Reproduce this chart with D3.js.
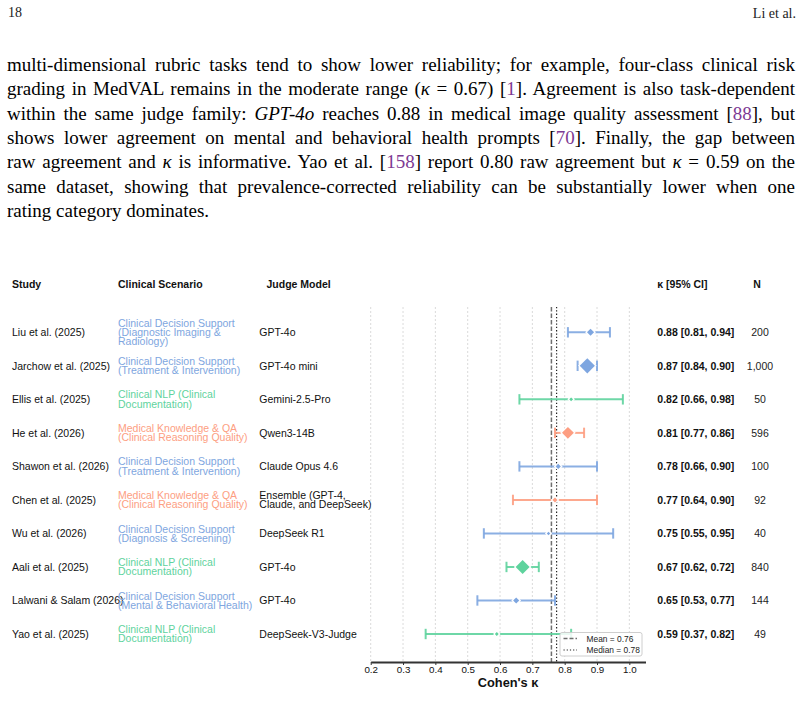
<!DOCTYPE html>
<html>
<head>
<meta charset="utf-8">
<script src="https://cdn.jsdelivr.net/npm/d3@7"></script>
<style>
body { margin: 0; background: #fff; }
</style>
</head>
<body>
<div id="canvas"></div>
<script>
"use strict"

/* Configuration variables: drawing */
let svgWidth = 803;
let svgHeight = 720;

/* Page text (header + paragraph above the figure) */
let pageNumber = "18";
let runningHead = "Li et al.";

// each line is a list of [text, style] pieces; "i" = italic, "c" = citation colour
let paragraphLines = [
    [["multi-dimensional rubric tasks tend to show lower reliability; for example, four-class clinical risk"]],
    [["grading in MedVAL remains in the moderate range ("], ["κ", "i"], [" = 0.67) ["], ["1", "c"], ["]. Agreement is also task-dependent"]],
    [["within the same judge family: "], ["GPT-4o", "i"], [" reaches 0.88 in medical image quality assessment ["], ["88", "c"], ["], but"]],
    [["shows lower agreement on mental and behavioral health prompts ["], ["70", "c"], ["]. Finally, the gap between"]],
    [["raw agreement and "], ["κ", "i"], [" is informative. Yao et al. ["], ["158", "c"], ["] report 0.80 raw agreement but "], ["κ", "i"], [" = 0.59 on the"]],
    [["same dataset, showing that prevalence-corrected reliability can be substantially lower when one"]],
    [["rating category dominates."]]
];

/* Forest plot data */
let studies = [
    "Liu et al. (2025)", "Jarchow et al. (2025)", "Ellis et al. (2025)", "He et al. (2026)",
    "Shawon et al. (2026)", "Chen et al. (2025)", "Wu et al. (2026)", "Aali et al. (2025)",
    "Lalwani & Salam (2026)", "Yao et al. (2025)"
];
let categories = [
    "Clinical Decision Support", "Clinical Decision Support", "Clinical NLP", "Medical Knowledge & QA",
    "Clinical Decision Support", "Medical Knowledge & QA", "Clinical Decision Support", "Clinical NLP",
    "Clinical Decision Support", "Clinical NLP"
];
let scenarioLines = [
    ["Clinical Decision Support", "(Diagnostic Imaging &", "Radiology)"],
    ["Clinical Decision Support", "(Treatment & Intervention)"],
    ["Clinical NLP (Clinical", "Documentation)"],
    ["Medical Knowledge & QA", "(Clinical Reasoning Quality)"],
    ["Clinical Decision Support", "(Treatment & Intervention)"],
    ["Medical Knowledge & QA", "(Clinical Reasoning Quality)"],
    ["Clinical Decision Support", "(Diagnosis & Screening)"],
    ["Clinical NLP (Clinical", "Documentation)"],
    ["Clinical Decision Support", "(Mental & Behavioral Health)"],
    ["Clinical NLP (Clinical", "Documentation)"]
];
let judgeLines = [
    ["GPT-4o"], ["GPT-4o mini"], ["Gemini-2.5-Pro"], ["Qwen3-14B"], ["Claude Opus 4.6"],
    ["Ensemble (GPT-4,", "Claude, and DeepSeek)"], ["DeepSeek R1"], ["GPT-4o"], ["GPT-4o"], ["DeepSeek-V3-Judge"]
];
let kappa   = [0.88, 0.87, 0.82, 0.81, 0.78, 0.77, 0.75, 0.67, 0.65, 0.59];
let ciLow   = [0.81, 0.84, 0.66, 0.77, 0.66, 0.64, 0.55, 0.62, 0.53, 0.37];
let ciHigh  = [0.94, 0.90, 0.98, 0.86, 0.90, 0.90, 0.95, 0.72, 0.77, 0.82];
let sampleN = [200, 1000, 50, 596, 100, 92, 40, 840, 144, 49];

let xTicks = [0.2, 0.3, 0.4, 0.5, 0.6, 0.7, 0.8, 0.9, 1.0];
let columnHeaders = ["Study", "Clinical Scenario", "Judge Model", "κ [95% CI]", "N"];

let rows = studies.map((s, i) => ({
    study: s,
    category: categories[i],
    scenario: scenarioLines[i],
    judge: judgeLines[i],
    k: kappa[i],
    lo: ciLow[i],
    hi: ciHigh[i],
    n: sampleN[i]
}));

/* fonts */
let serif = "'Liberation Serif', 'Times New Roman', serif";
let sans = "'Liberation Sans', Arial, Helvetica, sans-serif";

/* Create drawing canvas */
let svg = d3.select("#canvas")
    .append("svg")
    .attr("width", svgWidth)
    .attr("height", svgHeight)
    .style("display", "block");

svg.append("rect")
    .attr("width", svgWidth)
    .attr("height", svgHeight)
    .attr("fill", "#fff");

/**** page header ****/
svg.append("text")
    .attr("x", 8)
    .attr("y", 17)
    .attr("font-family", serif)
    .attr("font-size", 14)
    .attr("fill", "#222")
    .text(pageNumber);

svg.append("text")
    .attr("x", 796)
    .attr("y", 17.5)
    .attr("text-anchor", "end")
    .attr("font-family", serif)
    .attr("font-size", 14)
    .attr("fill", "#222")
    .text(runningHead);

/**** paragraph, justified line by line ****/
let paraLeft = 7;
let paraWidth = 788;

paragraphLines.forEach(function(line, i) {
    let t = svg.append("text")
        .attr("x", paraLeft)
        .attr("y", 71 + i * 24.3)
        .attr("font-family", serif)
        .attr("font-size", 19)
        .attr("fill", "#000")
        .style("white-space", "pre");

    line.forEach(function(piece) {
        let span = t.append("tspan").text(piece[0]);
        if (piece[1] === "i") span.attr("font-style", "italic");
        if (piece[1] === "c") span.attr("fill", "#7d3a93");
    });

    // stretch (or squeeze) the word gaps so each full line fills the measure
    if (i < paragraphLines.length - 1) {
        let natural = t.node().getComputedTextLength();
        let gaps = line.map(p => p[0]).join("").split(" ").length - 1;
        t.style("word-spacing", ((paraWidth - natural) / gaps) + "px");
    }
});

/**** forest plot ****/
let plotTop = 307;
let plotBottom = 662;

let xScale = d3.scaleLinear()
    .domain([0.2, 1.05])
    .range([370.7, 645.5]);

let yScale = d3.scalePoint()
    .domain(studies)
    .range([332.3, 634]);

let colorScale = d3.scaleOrdinal()
    .domain(["Clinical Decision Support", "Clinical NLP", "Medical Knowledge & QA"])
    .range(["#7ea6e0", "#5ed39d", "#fd9e82"]);

// half-diagonal of the diamond grows with sqrt of sample size
let sizeScale = d3.scaleSqrt()
    .domain([0, 1000])
    .range([0.3, 7.6]);

/* dotted grid */
svg.append("g")
    .selectAll("line")
    .data(xTicks)
    .join("line")
    .attr("x1", d => xScale(d))
    .attr("x2", d => xScale(d))
    .attr("y1", plotTop)
    .attr("y2", plotBottom)
    .attr("stroke", "#d6d6d6")
    .attr("stroke-width", 0.9)
    .attr("stroke-dasharray", "2,2");

/* mean / median reference lines */
let meanK = d3.mean(kappa);
let medianK = d3.median(kappa);

svg.append("line")
    .attr("x1", xScale(meanK))
    .attr("x2", xScale(meanK))
    .attr("y1", plotTop)
    .attr("y2", plotBottom)
    .attr("stroke", "#6f6f6f")
    .attr("stroke-width", 1.5)
    .attr("stroke-dasharray", "4.5,2");

svg.append("line")
    .attr("x1", xScale(medianK))
    .attr("x2", xScale(medianK))
    .attr("y1", plotTop)
    .attr("y2", plotBottom)
    .attr("stroke", "#222")
    .attr("stroke-width", 1.2)
    .attr("stroke-dasharray", "1.3,2");

/* error bars */
let capHalf = 5.2;
let bars = svg.append("g")
    .selectAll("g")
    .data(rows)
    .join("g")
    .attr("stroke", d => colorScale(d.category))
    .attr("stroke-width", 2)
    .attr("stroke-opacity", 0.9);

bars.append("line")
    .attr("x1", d => xScale(d.lo))
    .attr("x2", d => xScale(d.hi))
    .attr("y1", d => yScale(d.study))
    .attr("y2", d => yScale(d.study));

bars.append("line")
    .attr("x1", d => xScale(d.lo))
    .attr("x2", d => xScale(d.lo))
    .attr("y1", d => yScale(d.study) - capHalf)
    .attr("y2", d => yScale(d.study) + capHalf);

bars.append("line")
    .attr("x1", d => xScale(d.hi))
    .attr("x2", d => xScale(d.hi))
    .attr("y1", d => yScale(d.study) - capHalf)
    .attr("y2", d => yScale(d.study) + capHalf);

/* diamond markers (square rotated 45 degrees) with a white halo */
svg.append("g")
    .selectAll("path")
    .data(rows)
    .join("path")
    .attr("d", d => d3.symbol(d3.symbolSquare, 2 * sizeScale(d.n) * sizeScale(d.n))())
    .attr("transform", d => "translate(" + xScale(d.k) + "," + yScale(d.study) + ") rotate(45)")
    .attr("fill", d => colorScale(d.category))
    .attr("stroke", "#fff")
    .attr("stroke-width", 2.6)
    .style("paint-order", "stroke");

/* x axis */
let xAxis = d3.axisBottom(xScale)
    .tickValues(xTicks)
    .tickFormat(d3.format(".1f"))
    .tickSize(3)
    .tickSizeOuter(0);

let axisG = svg.append("g")
    .attr("transform", "translate(0," + plotBottom + ")")
    .call(xAxis);

axisG.select(".domain")
    .attr("stroke", "#333")
    .attr("stroke-width", 1.8);
axisG.selectAll(".tick line")
    .attr("stroke", "#333");
axisG.selectAll(".tick text")
    .attr("font-family", sans)
    .attr("font-size", 9.8)
    .attr("fill", "#111")
    .attr("dy", "0.55em");

svg.append("text")
    .attr("x", (xScale.range()[0] + xScale.range()[1]) / 2)
    .attr("y", 686.5)
    .attr("text-anchor", "middle")
    .attr("font-family", sans)
    .attr("font-size", 12.8)
    .attr("font-weight", "bold")
    .attr("fill", "#111")
    .text("Cohen's κ");

/* legend */
let legend = svg.append("g");
legend.append("rect")
    .attr("x", 560)
    .attr("y", 632.5)
    .attr("width", 82)
    .attr("height", 23.5)
    .attr("rx", 2)
    .attr("fill", "#fff")
    .attr("fill-opacity", 0.85)
    .attr("stroke", "#c8c8c8")
    .attr("stroke-width", 0.9);

let legendItems = [
    { label: "Mean = " + d3.format(".2f")(meanK), color: "#6f6f6f", dash: "4,2", width: 1.3 },
    { label: "Median = " + d3.format(".2f")(medianK), color: "#222", dash: "1.2,2", width: 1.1 }
];

legendItems.forEach(function(d, i) {
    legend.append("line")
        .attr("x1", 563.5)
        .attr("x2", 577)
        .attr("y1", 638.5 + i * 11.5)
        .attr("y2", 638.5 + i * 11.5)
        .attr("stroke", d.color)
        .attr("stroke-width", d.width)
        .attr("stroke-dasharray", d.dash);

    legend.append("text")
        .attr("x", 586.5)
        .attr("y", 641.6 + i * 11.5)
        .attr("font-family", sans)
        .attr("font-size", 8.4)
        .attr("fill", "#222")
        .text(d.label);
});

/**** table columns ****/
let headerX = [12, 118, 266.5, 657.3, 757];
columnHeaders.forEach(function(h, i) {
    svg.append("text")
        .attr("x", headerX[i])
        .attr("y", 287.7)
        .attr("text-anchor", i === 4 ? "middle" : "start")
        .attr("font-family", sans)
        .attr("font-size", 10.5)
        .attr("font-weight", "bold")
        .attr("fill", "#111")
        .text(h);
});

let lineStep = 9.2;

// multi-line cell, vertically centred on the row
function cellText(g, x, d, lines, color) {
    let t = g.append("text")
        .attr("font-family", sans)
        .attr("font-size", 10.5)
        .attr("fill", color);
    lines.forEach(function(l, j) {
        t.append("tspan")
            .attr("x", x)
            .attr("y", yScale(d.study) + 3.7 + (j - (lines.length - 1) / 2) * lineStep)
            .text(l);
    });
}

rows.forEach(function(d) {
    let g = svg.append("g");
    cellText(g, 12, d, [d.study], "#111");
    cellText(g, 118, d, d.scenario, colorScale(d.category));
    cellText(g, 259.3, d, d.judge, "#111");

    g.append("text")
        .attr("x", 657.3)
        .attr("y", yScale(d.study) + 3.7)
        .attr("font-family", sans)
        .attr("font-size", 10.5)
        .attr("font-weight", "bold")
        .attr("fill", "#111")
        .text(d3.format(".2f")(d.k) + " [" + d3.format(".2f")(d.lo) + ", " + d3.format(".2f")(d.hi) + "]");

    g.append("text")
        .attr("x", 760)
        .attr("y", yScale(d.study) + 3.7)
        .attr("text-anchor", "middle")
        .attr("font-family", sans)
        .attr("font-size", 10.5)
        .attr("fill", "#222")
        .text(d3.format(",")(d.n));
});
</script>
</body>
</html>
